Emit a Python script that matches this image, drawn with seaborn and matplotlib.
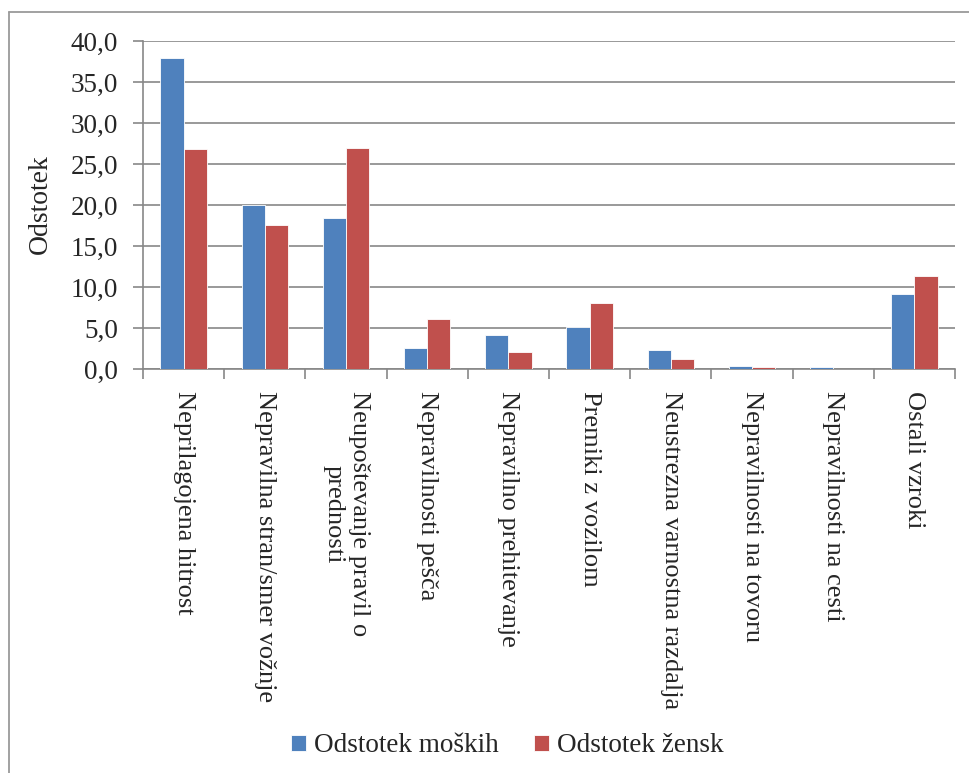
import matplotlib
matplotlib.use("Agg")
import matplotlib.pyplot as plt
import seaborn as sns
import pandas as pd
import numpy as np
from matplotlib.ticker import FixedLocator, FuncFormatter
from matplotlib.lines import Line2D

categories = [
    "Neprilagojena hitrost",
    "Nepravilna stran/smer vožnje",
    "Neupoštevanje pravil o\nprednosti",
    "Nepravilnosti pešča",
    "Nepravilno prehitevanje",
    "Premiki z vozilom",
    "Neustrezna varnostna razdalja",
    "Nepravilnosti na tovoru",
    "Nepravilnosti na cesti",
    "Ostali vzroki",
]
series_names = ["Odstotek moških", "Odstotek žensk"]
men = [37.9, 20.0, 18.4, 2.5, 4.1, 5.1, 2.3, 0.4, 0.2, 9.2]
women = [26.8, 17.6, 27.0, 6.1, 2.1, 8.0, 1.2, 0.2, 0.0, 11.3]
y_ticks = [0, 5, 10, 15, 20, 25, 30, 35, 40]

df = pd.DataFrame({
    "cat": categories * 2,
    "series": [series_names[0]] * len(categories) + [series_names[1]] * len(categories),
    "val": men + women,
})

sns.set_style("white")
plt.rcParams["font.family"] = ["Liberation Serif", "DejaVu Serif"]

W, H = 970, 773
fig = plt.figure(figsize=(W / 100, H / 100), dpi=100)
ax = fig.add_axes([143 / W, 1 - 369 / H, (955 - 143) / W, (369 - 41) / H])

colors = ["#4F81BD", "#C0504D"]
sns.barplot(data=df, x="cat", y="val", hue="series", palette=colors,
            width=2 / 3.5, gap=0, ax=ax, edgecolor="white", linewidth=0.6,
            saturation=1, legend=True, zorder=3)

grid_col = "#878787"
ax.set_xlim(-0.5, len(categories) - 0.5)
ax.set_ylim(0, 40)
ax.yaxis.set_major_locator(FixedLocator(y_ticks))
ax.yaxis.set_major_formatter(FuncFormatter(lambda v, p: f"{v:.1f}".replace(".", ",")))
ax.grid(axis="y", color=grid_col, linewidth=1.2, zorder=0)
ax.set_axisbelow(True)
for s in ["top", "right"]:
    ax.spines[s].set_visible(False)
for s in ["left", "bottom"]:
    ax.spines[s].set_color(grid_col)
    ax.spines[s].set_linewidth(1.2)

ax.tick_params(axis="y", direction="out", length=7, width=1.2, color=grid_col,
               labelsize=19.5, pad=11, left=True)
ax.set_xticks(range(len(categories)))
ax.set_xticklabels(categories, rotation=270, ha="center", va="top",
                   multialignment="center", fontsize=19)
ax.tick_params(axis="x", which="major", length=0, pad=16)
ax.set_xticks(np.arange(-0.5, len(categories), 1.0), minor=True)
ax.tick_params(axis="x", which="minor", direction="out", length=7, width=1.2,
               color=grid_col, bottom=True)

ax.set_xlabel("")
ax.set_ylabel("")
fig.text(40 / W, 1 - 204 / H, "Odstotek", rotation=90, ha="center", va="center",
         fontsize=20)

ax.legend(loc="center", bbox_to_anchor=(507 / W, 1 - 746 / H),
          bbox_transform=fig.transFigure, ncol=2, frameon=False,
          fontsize=19.5, handlelength=0.55, handleheight=0.55,
          handletextpad=0.3, columnspacing=1.3)

border = "#9a9a9a"
fig.add_artist(Line2D([9.5 / W, 9.5 / W], [0, 1 - 12 / H], transform=fig.transFigure,
                      color=border, linewidth=1.3))
fig.add_artist(Line2D([9.5 / W, 1], [1 - 12 / H, 1 - 12 / H], transform=fig.transFigure,
                      color=border, linewidth=1.3))

fig.savefig("out.png", dpi=100)
